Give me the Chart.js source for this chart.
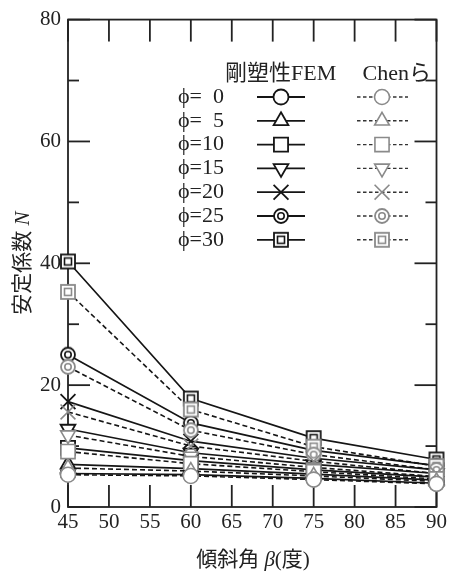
<!DOCTYPE html>
<html><head><meta charset="utf-8">
<script src="https://cdn.jsdelivr.net/npm/chart.js@4.4.1/dist/chart.umd.min.js"></script>
<style>html,body{margin:0;padding:0;background:#fff}canvas{display:block}</style>
</head><body>
<canvas id="c" width="450" height="571"></canvas>
<script>
// ---- data ----
const betas = [45, 60, 75, 90];
const phiLabels = ['0', '5', '10', '15', '20', '25', '30'];
const fem_phi0  = [5.5, 5.3, 4.7, 3.9];
const fem_phi5  = [7.0, 6.3, 5.4, 4.4];
const fem_phi10 = [9.7, 7.6, 6.1, 4.9];
const fem_phi15 = [12.8, 8.9, 7.0, 5.5];
const fem_phi20 = [17.3, 10.8, 8.0, 6.1];
const fem_phi25 = [25.0, 13.8, 9.3, 6.8];
const fem_phi30 = [40.3, 17.8, 11.3, 7.8];
const chen_phi0  = [5.3, 5.1, 4.5, 3.8];
const chen_phi5  = [6.4, 5.9, 5.1, 4.2];
const chen_phi10 = [9.1, 7.1, 5.8, 4.6];
const chen_phi15 = [11.8, 8.3, 6.5, 5.0];
const chen_phi20 = [15.6, 10.0, 7.5, 5.5];
const chen_phi25 = [23.0, 12.6, 8.6, 6.1];
const chen_phi30 = [35.3, 16.0, 9.9, 6.7];
const xTicks = [45, 50, 55, 60, 65, 70, 75, 80, 85, 90];
const yMajorTicks = [0, 20, 40, 60, 80];
const yMinorTicks = [10, 30, 50, 70];
const femName = '剛塑性FEM';
const chenName = 'Chenら';
const xTitle = ['傾斜角 ', 'β', '(度)'];
const yTitle = ['安定係数 ', 'N'];

const femSeries = [fem_phi0, fem_phi5, fem_phi10, fem_phi15, fem_phi20, fem_phi25, fem_phi30];
const chenSeries = [chen_phi0, chen_phi5, chen_phi10, chen_phi15, chen_phi20, chen_phi25, chen_phi30];

// ---- styles ----
const BLACK = '#151515';
const GRAY = '#8a8a8a';
const SERIF = '"Liberation Serif","Noto Sans CJK JP"';

function makeDoubleCircle(color) {
  const c = document.createElement('canvas'); c.width = c.height = 18;
  const g = c.getContext('2d');
  g.fillStyle = '#fff'; g.strokeStyle = color; g.lineWidth = 1.8;
  g.beginPath(); g.arc(9, 9, 7, 0, Math.PI * 2); g.fill(); g.stroke();
  g.lineWidth = 1.6; g.beginPath(); g.arc(9, 9, 3.2, 0, Math.PI * 2); g.stroke();
  return c;
}
function makeSquareInSquare(color) {
  const c = document.createElement('canvas'); c.width = c.height = 18;
  const g = c.getContext('2d');
  g.fillStyle = '#fff'; g.strokeStyle = color; g.lineWidth = 1.8;
  g.fillRect(2, 2, 14, 14); g.strokeRect(2, 2, 14, 14);
  g.lineWidth = 1.6; g.strokeRect(5.5, 5.5, 7, 7);
  return c;
}
function markerStyles(color) {
  return [
    { s: 'circle', r: 7.5, rot: 0 },
    { s: 'triangle', r: 8.5, rot: 0 },
    { s: 'rect', r: 10, rot: 0 },
    { s: 'triangle', r: 8.5, rot: 180 },
    { s: 'crossRot', r: 10.5, rot: 0 },
    { s: makeDoubleCircle(color), r: 8, rot: 0 },
    { s: makeSquareInSquare(color), r: 8, rot: 0 }
  ];
}
const femMarkers = markerStyles(BLACK);
const chenMarkers = markerStyles(GRAY);

const datasets = [];
chenSeries.forEach((arr, i) => {
  const m = chenMarkers[i];
  datasets.push({
    data: betas.map((b, j) => ({ x: b, y: arr[j] })),
    showLine: true, borderColor: BLACK, borderWidth: 1.6, borderDash: [5, 3],
    pointStyle: m.s, pointRadius: m.r, pointRotation: m.rot,
    pointBackgroundColor: '#fff', pointBorderColor: GRAY, pointBorderWidth: 1.6,
    clip: false, tension: 0
  });
});
femSeries.forEach((arr, i) => {
  const m = femMarkers[i];
  datasets.push({
    data: betas.map((b, j) => ({ x: b, y: arr[j] })),
    showLine: true, borderColor: BLACK, borderWidth: 1.7,
    pointStyle: m.s, pointRadius: m.r, pointRotation: m.rot,
    pointBackgroundColor: '#fff', pointBorderColor: BLACK, pointBorderWidth: 1.8,
    clip: false, tension: 0
  });
});

function line(ctx, x1, y1, x2, y2) { ctx.beginPath(); ctx.moveTo(x1, y1); ctx.lineTo(x2, y2); ctx.stroke(); }

const deco = {
  id: 'deco',
  beforeDatasetsDraw(chart) {
    const { ctx, chartArea: a, scales: { x, y } } = chart;
    ctx.save();
    ctx.strokeStyle = '#222'; ctx.lineWidth = 1.8;
    ctx.strokeRect(a.left, a.top, a.right - a.left, a.bottom - a.top);
    xTicks.forEach(v => {
      const px = x.getPixelForValue(v);
      line(ctx, px, a.bottom, px, a.bottom - 22);
      line(ctx, px, a.top, px, a.top + 22);
    });
    yMajorTicks.forEach(v => {
      const py = y.getPixelForValue(v);
      line(ctx, a.left, py, a.left + 22, py);
      line(ctx, a.right, py, a.right - 22, py);
    });
    yMinorTicks.forEach(v => {
      const py = y.getPixelForValue(v);
      line(ctx, a.left, py, a.left + 11, py);
      line(ctx, a.right, py, a.right - 11, py);
    });
    ctx.restore();
  },
  afterDraw(chart) {
    const { ctx } = chart;
    const H = Chart.helpers;
    ctx.save();
    ctx.fillStyle = '#222';
    ctx.textBaseline = 'middle';
    // legend header
    ctx.font = '22px ' + SERIF;
    ctx.textAlign = 'left';
    ctx.fillText(femName, 225, 74);
    ctx.textAlign = 'right';
    ctx.fillText(chenName, 431, 74);
    // legend rows
    ctx.font = '22px ' + SERIF;
    const wPhi = ctx.measureText('ϕ=').width;
    const wNum = ctx.measureText('10').width;
    phiLabels.forEach((lab, i) => {
      const yy = 97 + i * 23.8;
      ctx.fillStyle = '#222';
      ctx.font = '22px ' + SERIF;
      ctx.textAlign = 'left';
      ctx.fillText('ϕ=', 178, yy);
      ctx.textAlign = 'right';
      ctx.fillText(lab, 178 + wPhi + wNum, yy);
      // solid
      ctx.strokeStyle = BLACK; ctx.lineWidth = 1.8; ctx.setLineDash([]);
      line(ctx, 257, yy, 305, yy);
      const fm = femMarkers[i];
      ctx.fillStyle = '#fff'; ctx.strokeStyle = BLACK; ctx.lineWidth = 1.8;
      H.drawPoint(ctx, { pointStyle: fm.s, radius: fm.r, rotation: fm.rot, borderWidth: 1.8 }, 281, yy);
      // dashed
      ctx.strokeStyle = '#333'; ctx.lineWidth = 1.4; ctx.setLineDash([3.5, 2.5]);
      line(ctx, 357, yy, 408, yy);
      ctx.setLineDash([]);
      const cm = chenMarkers[i];
      ctx.fillStyle = '#fff'; ctx.strokeStyle = GRAY; ctx.lineWidth = 1.6;
      H.drawPoint(ctx, { pointStyle: cm.s, radius: cm.r, rotation: cm.rot, borderWidth: 1.6 }, 382, yy);
    });
    // x title
    ctx.fillStyle = '#222';
    const fN = '21px ' + SERIF, fI = 'italic 21px ' + SERIF;
    const xParts = [[xTitle[0], fN], [xTitle[1], fI], [xTitle[2], fN]];
    let w = 0;
    xParts.forEach(p => { ctx.font = p[1]; w += ctx.measureText(p[0]).width; });
    let cx = 253 - w / 2;
    ctx.textAlign = 'left';
    xParts.forEach(p => { ctx.font = p[1]; ctx.fillText(p[0], cx, 560); cx += ctx.measureText(p[0]).width; });
    // y title
    ctx.translate(23, 263);
    ctx.rotate(-Math.PI / 2);
    const yParts = [[yTitle[0], fN], [yTitle[1], fI]];
    w = 0;
    yParts.forEach(p => { ctx.font = p[1]; w += ctx.measureText(p[0]).width; });
    cx = -w / 2;
    yParts.forEach(p => { ctx.font = p[1]; ctx.fillText(p[0], cx, 0); cx += ctx.measureText(p[0]).width; });
    ctx.restore();
  }
};

new Chart(document.getElementById('c'), {
  type: 'scatter',
  data: { datasets },
  options: {
    responsive: false, animation: false, devicePixelRatio: 1,
    layout: { padding: { top: 19, right: 12, left: 0, bottom: 0 } },
    plugins: { legend: { display: false }, tooltip: { enabled: false } },
    scales: {
      x: {
        type: 'linear', min: 45, max: 90,
        afterFit(s) { s.height = 64; },
        afterBuildTicks(s) { s.ticks = xTicks.map(v => ({ value: v })); },
        grid: { display: false, drawTicks: false }, border: { display: false },
        ticks: { color: '#222', padding: 3, font: { family: 'Liberation Serif', size: 21 }, maxRotation: 0, autoSkip: false }
      },
      y: {
        type: 'linear', min: 0, max: 80,
        afterFit(s) { s.width = 68; },
        afterBuildTicks(s) { s.ticks = yMajorTicks.map(v => ({ value: v })); },
        grid: { display: false, drawTicks: false }, border: { display: false },
        ticks: { color: '#222', padding: 7, font: { family: 'Liberation Serif', size: 21 }, autoSkip: false }
      }
    }
  },
  plugins: [deco]
});
</script>
</body></html>
